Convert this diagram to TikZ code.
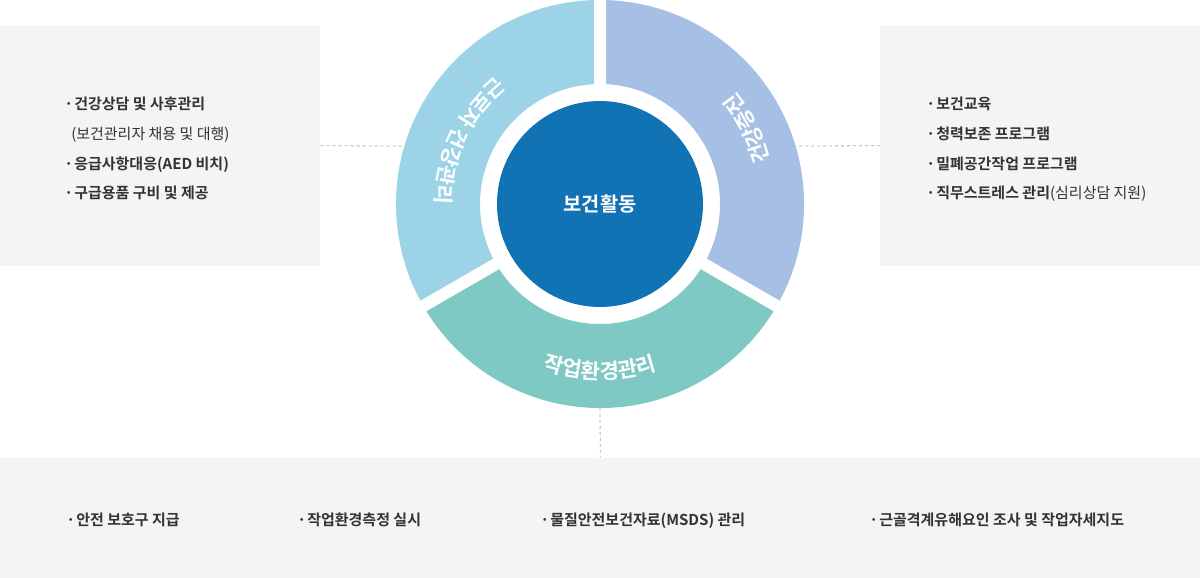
\documentclass[tikz,border=0pt]{standalone}
\usepackage{fontspec}
\setmainfont{Noto Sans CJK KR}[BoldFont={Noto Sans CJK KR Bold}]
\usetikzlibrary{calc, positioning, decorations.text}
\definecolor{boxgray}{HTML}{F4F4F4}
\definecolor{segcare}{HTML}{9DD3E6}
\definecolor{segpromo}{HTML}{A5C0E4}
\definecolor{segenv}{HTML}{7EC9C3}
\definecolor{hubblue}{HTML}{1172B4}
\definecolor{txtgray}{HTML}{333333}
\definecolor{dashgray}{HTML}{AAAAAA}
\newcommand{\bul}{\makebox[7.5pt][l]{·}}

\begin{document}
\begin{tikzpicture}[x=0.75pt,y=0.75pt]
  \def\rhub{103};
  \def\rin{120};
  \def\rout{204};
  \def\rtxt{175};
  \def\rfit{164};
  \def\gap{9pt};
  \tikzset{
    panel/.style={fill=boxgray, inner sep=0pt, anchor=south west},
    item/.style={anchor=base west, inner sep=0pt, text=txtgray, align=left,
      font=\fontsize{11.25pt}{22.3pt}\selectfont\bfseries},
    link/.style={draw=dashgray, dash pattern=on 2.25pt off 2.25pt, line width=0.6pt},
    ringtext/.style={decorate, decoration={text along path, text align=center,
      text color=white, text={|\fontsize{15.8pt}{18pt}\selectfont\bfseries|#1}}},
    ringfit/.style={decorate, decoration={text effects along path, text={#1},
      text effects/.cd, text along path, fit text to path, characters={text=white, inner sep=0pt,
      font=\fontsize{15.8pt}{18pt}\selectfont\bfseries}}},
  }
  \useasboundingbox (0,0) rectangle (1200,578);

  \coordinate (C) at (600,374); % 중심

  % 회색 박스
  \node[panel, minimum width=240pt, minimum height=180pt] (leftbox) at (0,312) {};
  \node[panel, minimum width=240pt, minimum height=180pt] (rightbox) at (880,312) {};
  \node[panel, minimum width=900pt, minimum height=90pt] (botbox) at (0,0) {};

  % 링 (반시계 방향 120도씩)
  \foreach \a/\col in {90/segcare, -30/segpromo, 210/segenv} {
    \fill[\col] ($(C)+(\a:\rout)$) arc[start angle=\a, end angle=\a+120, radius=\rout]
      -- ($(C)+(\a+120:\rin)$) arc[start angle=\a+120, end angle=\a, radius=\rin] -- cycle;
  }
  \foreach \a in {90,-30,210} {
    \draw[white, line width=\gap] (C) -- ($(C)+(\a:\rout+6)$); % 틈
  }
  \node[circle, fill=hubblue, minimum size=154.5pt, inner sep=0pt, text=white,
    font=\fontsize{14.8pt}{17pt}\selectfont\bfseries] (hub) at (C) {보건활동};

  % 링 위의 글자
  \path[ringfit={근로자 건강관리}] ($(C)+(129:\rfit)$) arc[start angle=129, end angle=180, radius=\rfit];
  \path[ringtext={건강증진}] ($(C)+(-33:\rtxt)$) arc[start angle=-33, end angle=87, radius=\rtxt];
  \path[ringtext={작업환경관리}] ($(C)+(210:\rtxt)$) arc[start angle=210, end angle=330, radius=\rtxt];

  % 목록 (마지막 줄 기준)
  \node[item] (leftlist) at (64,379) {\bul 건강상담 및 사후관리\\
    \hspace*{5.25pt}{\mdseries (보건관리자 채용 및 대행)}\\
    \bul 응급사항대응(AED 비치)\\
    \bul 구급용품 구비 및 제공};
  \node[item] (rightlist) at (926,379) {\bul 보건교육\\
    \bul 청력보존 프로그램\\
    \bul 밀폐공간작업 프로그램\\
    \bul 직무스트레스 관리{\mdseries(심리상담 지원)}};
  \foreach \x/\t in {66/안전 보호구 지급, 297/작업환경측정 실시,
      540/물질안전보건자료(MSDS) 관리, 869/근골격계유해요인 조사 및 작업자세지도} {
    \node[item] (bot-\x) at (\x,52) {\bul\t};
  }

  % 점선
  \coordinate (ringL) at ($(C)+(163.5:\rout)$);
  \coordinate (ringR) at ($(C)+(16.5:\rout)$);
  \coordinate (ringB) at ($(C)+(270:\rout)$);
  \draw[link] (leftbox.east) -- (ringL);
  \draw[link] (rightbox.west) -- (ringR);
  \draw[link] (ringB) -- (botbox.north);
\end{tikzpicture}
\end{document}
